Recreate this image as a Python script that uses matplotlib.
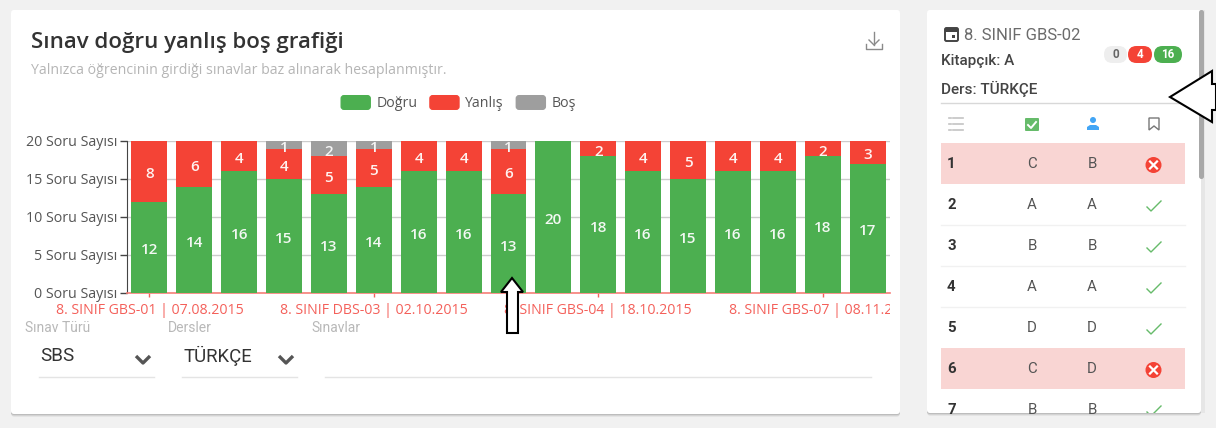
import matplotlib
matplotlib.use('Agg')
import matplotlib.pyplot as plt
import numpy as np
from matplotlib.legend_handler import HandlerPatch
from matplotlib.patches import FancyBboxPatch, Patch, Rectangle, Polygon, Circle
from matplotlib.transforms import Bbox

W, H = 1216, 428

# chart data
exams = ['8. SINIF GBS-01 | 07.08.2015', '', '', '', '', '8. SINIF DBS-03 | 02.10.2015', '', '', '', '',
         '8. SINIF GBS-04 | 18.10.2015', '', '', '', '', '8. SINIF GBS-07 | 08.11.2015', '']
dogru = [12, 14, 16, 15, 13, 14, 16, 16, 13, 20, 18, 16, 15, 16, 16, 18, 17]
yanlis = [8, 6, 4, 4, 5, 5, 4, 4, 6, 0, 2, 4, 5, 4, 4, 2, 3]
bos = [0, 0, 0, 1, 2, 1, 0, 0, 1, 0, 0, 0, 0, 0, 0, 0, 0]
y_ticks = [0, 5, 10, 15, 20]

# answer table on the right
soru_no = [1, 2, 3, 4, 5, 6, 7]
cevap = ['C', 'A', 'B', 'A', 'D', 'C', 'B']
ogrenci = ['B', 'A', 'B', 'A', 'D', 'D', 'B']
row_y = [163, 204, 245, 286, 327, 368, 409]

GREEN, RED, GRAY = '#4CAF50', '#F44336', '#9E9E9E'
OS = 'Open Sans'
RB = 'Roboto'

fig = plt.figure(figsize=(W / 100, H / 100), dpi=100, facecolor='#f1f1f1')

# whole-figure layer in pixel coordinates for the page around the chart
bg = fig.add_axes([0, 0, 1, 1], zorder=0)
bg.set_xlim(0, W)
bg.set_ylim(H, 0)
bg.axis('off')


def card(x0, y0, x1, y1):
    for off, col in ((2.5, '#d9d9d9'), (1.2, '#bdbdbd')):
        bg.add_patch(FancyBboxPatch((x0, y0 + off), x1 - x0, y1 - y0, boxstyle='round,pad=0,rounding_size=3',
                                    fc=col, ec='none'))
    bg.add_patch(FancyBboxPatch((x0, y0), x1 - x0, y1 - y0, boxstyle='round,pad=0,rounding_size=3',
                                fc='white', ec='none'))


card(11, 10, 900, 414)
card(927, 10, 1201, 413)

bg.text(31, 42, 'Sınav doğru yanlış boş grafiği', fontsize=16, fontweight='semibold', family=OS,
        color='#333333', va='center')
bg.text(31, 70, 'Yalnızca öğrencinin girdiği sınavlar baz alınarak hesaplanmıştır.', fontsize=10.2, family=OS,
        color='#b5b5b5', va='center')

# download icon
bg.plot([874, 874], [32, 45], color='#8a8a8a', lw=1)
bg.plot([869, 874, 879], [40, 45, 40], color='#8a8a8a', lw=1)
bg.plot([866, 866, 882, 882], [44, 49, 49, 44], color='#8a8a8a', lw=1)

# form fields under the chart
bg.text(25, 328, 'Sınav Türü', fontsize=10, family=RB, color='#b8b8b8', va='center')
bg.text(168, 328, 'Dersler', fontsize=10, family=RB, color='#b8b8b8', va='center')
bg.text(311, 328, 'Sınavlar', fontsize=10, family=RB, color='#b8b8b8', va='center')
bg.text(40, 356, 'SBS', fontsize=13.6, family=RB, color='#333333', va='center')
bg.text(184, 356, 'TÜRKÇE', fontsize=13.4, family=RB, color='#333333', va='center')
for cx in (143, 286):
    bg.plot([cx - 7, cx, cx + 7], [356, 363, 356], color='#555555', lw=2.4, solid_capstyle='butt')
for x0, x1 in ((39, 154), (182, 297), (325, 871)):
    bg.plot([x0, x1], [377, 377], color='#e4e4e4', lw=1)

# right card, header
bg.add_patch(FancyBboxPatch((945, 28), 13, 13, boxstyle='round,pad=0,rounding_size=1.5', fc='none', ec='#444444', lw=1.4))
bg.add_patch(Rectangle((945, 28), 13, 4, fc='#444444', ec='none'))
bg.add_patch(Rectangle((952, 35), 3, 3, fc='#444444', ec='none'))
bg.text(964, 35, '8. SINIF GBS-02', fontsize=12, family=RB, color='#6b6b6b', va='center')
bg.text(941, 60.5, 'Kitapçık: A', fontsize=11, family=RB, fontweight='medium', color='#444444', va='center')
bg.text(941, 88.5, 'Ders: TÜRKÇE', fontsize=11, family=RB, fontweight='medium', color='#444444', va='center')
for x0, x1, col, tcol, s in ((1104, 1127, '#eeeeee', '#666666', '0'), (1128, 1152, RED, 'white', '4'),
                             (1154, 1182, GREEN, 'white', '16')):
    bg.add_patch(FancyBboxPatch((x0, 46), x1 - x0, 17, boxstyle='round,pad=0,rounding_size=8.5', fc=col, ec='none'))
    bg.text((x0 + x1) / 2, 54.5, s, fontsize=8.4, fontweight='bold', family=RB, color=tcol, ha='center', va='center')
bg.plot([941, 1185], [102.5, 102.5], color='#d8d8d8', lw=1)

# table header icons
for yy in (118, 124, 130):
    bg.plot([949, 951], [yy, yy], color='#c4c4c4', lw=1.2)
    bg.plot([953, 963], [yy, yy], color='#c4c4c4', lw=1.2)
bg.add_patch(FancyBboxPatch((1025, 118), 14, 13, boxstyle='round,pad=0,rounding_size=1', fc='#66BB6A', ec='none'))
bg.plot([1028, 1031, 1036], [125, 128, 122], color='white', lw=1.4)
bg.add_patch(Circle((1093, 120), 3, fc='#42A5F5', ec='none'))
bg.add_patch(Polygon([[1087, 130], [1087, 127], [1090, 125], [1096, 125], [1099, 127], [1099, 130]], fc='#42A5F5', ec='none'))
bg.add_patch(Polygon([[1149, 118], [1159, 118], [1159, 130], [1154, 126], [1149, 130]], fc='none', ec='#777777', lw=1))

# table rows
clip = Rectangle((927, 10), 274, 403, transform=bg.transData)
for i, no in enumerate(soru_no):
    y = row_y[i]
    wrong = cevap[i] != ogrenci[i]
    if wrong:
        bg.add_patch(Rectangle((941, y - 20), 244, 41, fc='#f9d5d3', ec='none'))
    elif i < len(soru_no) - 1 and cevap[i + 1] == ogrenci[i + 1]:
        bg.plot([941, 1185], [y + 21, y + 21], color='#f1f1f1', lw=1)
    t = bg.text(947, y + 1, str(no), fontsize=10.8, fontweight='bold', family=RB, color='#333333', ha='left', va='center')
    t.set_clip_path(clip)
    t = bg.text(1032, y + 1, cevap[i], fontsize=10.8, family=RB, color='#555555', ha='center', va='center')
    t.set_clip_path(clip)
    t = bg.text(1092, y + 1, ogrenci[i], fontsize=10.8, family=RB, color='#555555', ha='center', va='center')
    t.set_clip_path(clip)
    if wrong:
        bg.add_patch(Circle((1153.5, y + 2), 8, fc=RED, ec='none'))
        bg.plot([1150, 1157], [y - 1.5, y + 5.5], color='white', lw=1.6)
        bg.plot([1150, 1157], [y + 5.5, y - 1.5], color='white', lw=1.6)
    else:
        ln, = bg.plot([1147, 1151, 1161], [y + 3, y + 7, y - 3], color='#66BB6A', lw=1)
        ln.set_clip_path(clip)

# scrollbar
bg.add_patch(Rectangle((1201, 10), 4, 403, fc='#e6e6e6', ec='none'))
bg.add_patch(FancyBboxPatch((1199, 10), 5, 169, boxstyle='round,pad=0,rounding_size=2.5', fc='#a8a8a8', ec='none'))

# the chart itself
ax = fig.add_axes([127 / W, 1 - 293 / H, 763 / W, 152 / H], zorder=1)
ax.patch.set_alpha(0)
x = np.arange(len(dogru))
d = np.array(dogru)
y_ = np.array(yanlis)
b = np.array(bos)
ax.bar(x, d, width=0.8, color=GREEN, zorder=3)
ax.bar(x, y_, width=0.8, bottom=d, color=RED, zorder=3)
ax.bar(x, b, width=0.8, bottom=d + y_, color=GRAY, zorder=3)
for i in x:
    ax.text(i, d[i] / 2 - 0.4, str(d[i]), color='#f2f8f2', fontsize=11, fontweight='semibold', family=OS,
            ha='center', va='center', zorder=4)
    if y_[i]:
        ax.text(i, d[i] + y_[i] / 2 - 0.4, str(y_[i]), color='#fff2f0', fontsize=11, fontweight='semibold',
                family=OS, ha='center', va='center', zorder=4)
    if b[i]:
        ax.text(i, d[i] + y_[i] + b[i] / 2 - 0.4, str(b[i]), color='#f5f5f5', fontsize=11, fontweight='semibold',
                family=OS, ha='center', va='center', zorder=4)

ax.set_xlim(-0.5, len(dogru) - 0.5)
ax.set_ylim(0, 20)
ax.set_yticks(y_ticks)
ax.set_yticklabels(['%d Soru Sayısı' % v for v in y_ticks], fontsize=10.3, family=OS, color='#555555')
ax.yaxis.grid(True, color='#cccccc', lw=1, zorder=0)
ax.tick_params(axis='y', length=5, width=1, color='#444444', pad=2)
tick_idx = [i for i, s in enumerate(exams) if s]
ax.set_xticks(tick_idx)
ax.set_xticklabels([exams[i] for i in tick_idx], fontsize=10.2, family=OS, color='#f4605a')
ax.tick_params(axis='x', length=3, width=1, color='#f4605a', pad=4.2)
for s in ('top', 'right'):
    ax.spines[s].set_visible(False)
ax.spines['left'].set_color('#444444')
ax.spines['bottom'].set_color('#f77f78')
ax.spines['bottom'].set_linewidth(1.2)

# last x label runs off the chart area and gets cut there
cut = Bbox.from_extents(0, 0, 890, H)
for lab in ax.get_xticklabels():
    lab.set_clip_box(cut)
    lab.set_clip_on(True)


def round_box(legend, orig_handle, xdescent, ydescent, width, height, fontsize):
    return FancyBboxPatch((-xdescent, -ydescent), width, height, boxstyle='round,pad=0,rounding_size=2')


handles = [Patch(color=GREEN, label='Doğru'), Patch(color=RED, label='Yanlış'), Patch(color=GRAY, label='Boş')]
leg = ax.legend(handles=handles, ncol=3, loc='center', bbox_to_anchor=(458.5 / W, 1 - 103.5 / H),
                bbox_transform=fig.transFigure, frameon=False, prop={'family': OS, 'size': 10.2},
                handlelength=2.05, handleheight=1.1, columnspacing=0.9, handletextpad=0.42,
                handler_map={Patch: HandlerPatch(patch_func=round_box)})
for t in leg.get_texts():
    t.set_color('#555555')

# hand-drawn arrows on top of the screenshot
top = fig.add_axes([0, 0, 1, 1], zorder=5)
top.set_xlim(0, W)
top.set_ylim(H, 0)
top.axis('off')
top.add_patch(Polygon([[512, 278], [523, 292], [518, 292], [518, 333], [507, 333], [507, 292], [501, 292]],
                      fc='white', ec='black', lw=1.5))
top.add_patch(Polygon([[1170, 97], [1212, 71], [1212, 84], [1216, 84], [1216, 110], [1212, 110], [1212, 122]],
                      fc='white', ec='black', lw=1.5))

fig.savefig('out.png', dpi=100, facecolor=fig.get_facecolor())
